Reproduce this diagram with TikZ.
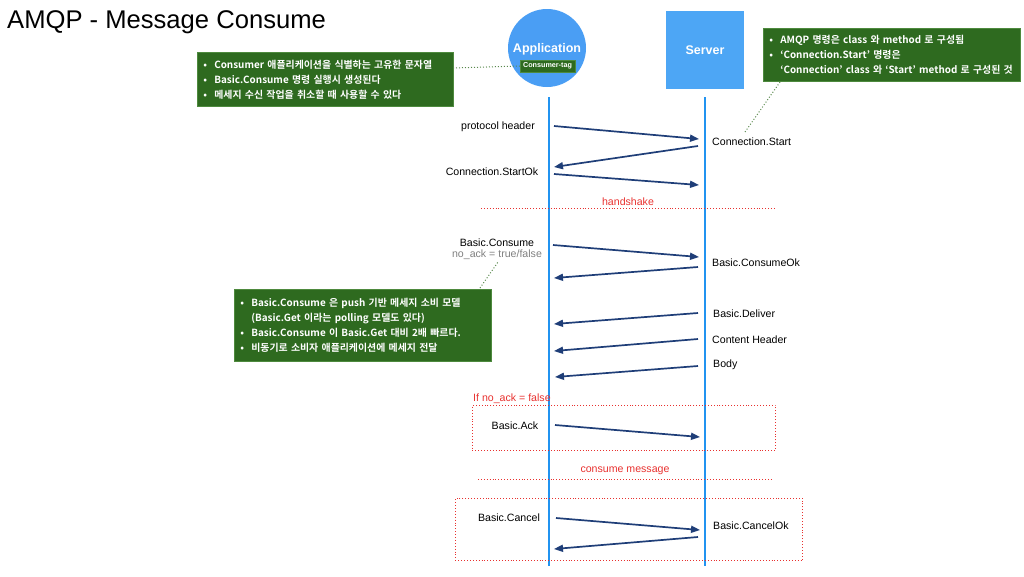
\documentclass[tikz,border=0pt]{standalone}
\usepackage{fontspec}
\setmainfont{Liberation Sans}
\newfontfamily\kr{Noto Sans CJK KR}[BoldFont={* Bold}]
\usetikzlibrary{arrows.meta}
\definecolor{appblue}{HTML}{4A9EF4}
\definecolor{srvblue}{HTML}{4DA6F5}
\definecolor{lifeblue}{HTML}{2193F0}
\definecolor{msgnavy}{HTML}{1F3E78}
\definecolor{notegreen}{HTML}{2E6A1F}
\definecolor{noteedge}{HTML}{4E8A3E}
\definecolor{redline}{HTML}{E8312F}
\tikzset{
  lifeline/.style={draw=lifeblue, line width=1.4pt},
  msg/.style={draw=msgnavy, line width=1.7pt, -{Triangle[length=9pt,width=7pt]}},
  lbl/.style={font=\fontsize{10.6}{12}\selectfont, text=black, inner sep=0pt},
  note/.style={fill=notegreen, draw=noteedge, line width=0.6pt, text=white, align=left,
    font=\kr\bfseries\fontsize{9.9}{15}\selectfont, inner sep=0pt},
  leader/.style={draw=notegreen!80!white, dotted, line width=1pt},
  sep/.style={draw=redline, dotted, line width=0.9pt},
  redlbl/.style={font=\fontsize{10.6}{12}\selectfont, text=redline, inner sep=0pt}
}
\newcommand{\bul}{\makebox[11pt][l]{\textbullet}}
\begin{document}
\begin{tikzpicture}[x=1pt,y=-1pt]
\useasboundingbox (0,0) rectangle (1024,576);
% title
\node[anchor=west, inner sep=0pt, font=\fontsize{25.6}{28}\selectfont] (title) at (7,22) {AMQP - Message Consume};
% participants
\node[circle, fill=appblue, minimum size=78pt, inner sep=0pt] (app) at (547,48) {};
\node[text=white, font=\bfseries\fontsize{12.5}{14}\selectfont, inner sep=0pt] (applbl) at (547,49) {Application};
\node[fill=notegreen, draw=noteedge, text=white, font=\bfseries\fontsize{7.2}{8}\selectfont, minimum width=55pt, minimum height=12pt, inner sep=0pt] (tag) at (547.5,66) {Consumer-tag};
\node[fill=srvblue, minimum width=78pt, minimum height=78pt, inner sep=0pt] (srv) at (705,50) {};
\node[text=white, font=\bfseries\fontsize{12.5}{14}\selectfont, inner sep=0pt] (srvlbl) at (705,50) {Server};
% lifelines
\coordinate (a0) at (549,97); \coordinate (a1) at (549,566);
\coordinate (s0) at (705,97); \coordinate (s1) at (705,566);
\draw[lifeline] (a0) -- (a1);
\draw[lifeline] (s0) -- (s1);
% notes
\node[note, anchor=north west, minimum width=256pt, minimum height=54pt, text width=250pt] (n1) at (197,52)
 {\hspace*{3pt}\bul Consumer 애플리케이션을 식별하는 고유한 문자열\\
  \hspace*{3pt}\bul Basic.Consume 명령 실행시 생성된다\\
  \hspace*{3pt}\bul 메세지 수신 작업을 취소할 때 사용할 수 있다};
\node[note, anchor=north west, minimum width=257pt, minimum height=53pt, text width=251pt] (n2) at (763,28)
 {\hspace*{3pt}\bul AMQP 명령은 class 와 method 로 구성됨\\
  \hspace*{3pt}\bul ‘Connection.Start’ 명령은\\
  \hspace*{3pt}\hspace{11pt}‘Connection’ class 와 ‘Start’ method 로 구성된 것};
\node[note, anchor=north west, minimum width=257pt, minimum height=72pt, text width=251pt] (n3) at (234,289)
 {\hspace*{3pt}\bul Basic.Consume 은 push 기반 메세지 소비 모델\\
  \hspace*{3pt}\hspace{11pt}(Basic.Get 이라는 polling 모델도 있다)\\
  \hspace*{3pt}\bul Basic.Consume 이 Basic.Get 대비 2배 빠르다.\\
  \hspace*{3pt}\bul 비동기로 소비자 애플리케이션에 메세지 전달};
% leaders
\coordinate (l1) at (453,68);
\draw[leader] (l1) -- (tag.west);
\coordinate (l2a) at (780,82); \coordinate (l2b) at (745,132);
\draw[leader] (l2a) -- (l2b);
\coordinate (l3a) at (480,288); \coordinate (l3b) at (498,262);
\draw[leader] (l3a) -- (l3b);
% messages
\node[lbl] (ph) at (498,127) {protocol header};
\coordinate (m1a) at (554,126); \coordinate (m1b) at (699,139);
\draw[msg] (m1a) -- (m1b);
\node[lbl, anchor=west] (cs) at (712,142) {Connection.Start};
\coordinate (m2a) at (698,146); \coordinate (m2b) at (554,167);
\draw[msg] (m2a) -- (m2b);
\node[lbl] (cso) at (492,172) {Connection.StartOk};
\coordinate (m3a) at (554,174); \coordinate (m3b) at (699,185);
\draw[msg] (m3a) -- (m3b);
% handshake
\coordinate (h0) at (481,208); \coordinate (h1) at (776,208);
\draw[sep] (h0) -- (h1);
\node[redlbl] (hs) at (628,202) {handshake};
% consume
\node[lbl] (bc) at (497,243) {Basic.Consume};
\node[lbl, text=black!50] (na) at (497,255) {no\_ack = true/false};
\coordinate (m4a) at (553,245); \coordinate (m4b) at (699,257);
\draw[msg] (m4a) -- (m4b);
\node[lbl, anchor=west] (bco) at (712,263) {Basic.ConsumeOk};
\coordinate (m5a) at (698,267); \coordinate (m5b) at (554,278);
\draw[msg] (m5a) -- (m5b);
% deliver
\node[lbl, anchor=west] (bd) at (713,314) {Basic.Deliver};
\coordinate (m6a) at (698,313); \coordinate (m6b) at (554,324);
\draw[msg] (m6a) -- (m6b);
\node[lbl, anchor=west] (ch) at (712,340) {Content Header};
\coordinate (m7a) at (698,339); \coordinate (m7b) at (554,351);
\draw[msg] (m7a) -- (m7b);
\node[lbl, anchor=west] (body) at (713,365) {Body};
\coordinate (m8a) at (698,366); \coordinate (m8b) at (555,377);
\draw[msg] (m8a) -- (m8b);
% ack box
\node[redlbl, anchor=west] (ifl) at (473,399) {If no\_ack = false};
\node[sep, draw=redline, minimum width=303pt, minimum height=45pt, inner sep=0pt, anchor=north west] (ackbox) at (472,405) {};
\node[lbl] (ack) at (515,426) {Basic.Ack};
\coordinate (m9a) at (555,425); \coordinate (m9b) at (700,437);
\draw[msg] (m9a) -- (m9b);
% consume message
\coordinate (c0) at (478,479); \coordinate (c1) at (772,479);
\draw[sep] (c0) -- (c1);
\node[redlbl] (cm) at (625,471) {consume message};
% cancel box
\node[sep, draw=redline, minimum width=347pt, minimum height=62pt, inner sep=0pt, anchor=north west] (cbox) at (455,498) {};
\node[lbl] (bcan) at (509,518) {Basic.Cancel};
\coordinate (m10a) at (556,518); \coordinate (m10b) at (700,530);
\draw[msg] (m10a) -- (m10b);
\node[lbl, anchor=west] (bcok) at (713,526) {Basic.CancelOk};
\coordinate (m11a) at (698,537); \coordinate (m11b) at (554,549);
\draw[msg] (m11a) -- (m11b);
\end{tikzpicture}
\end{document}
